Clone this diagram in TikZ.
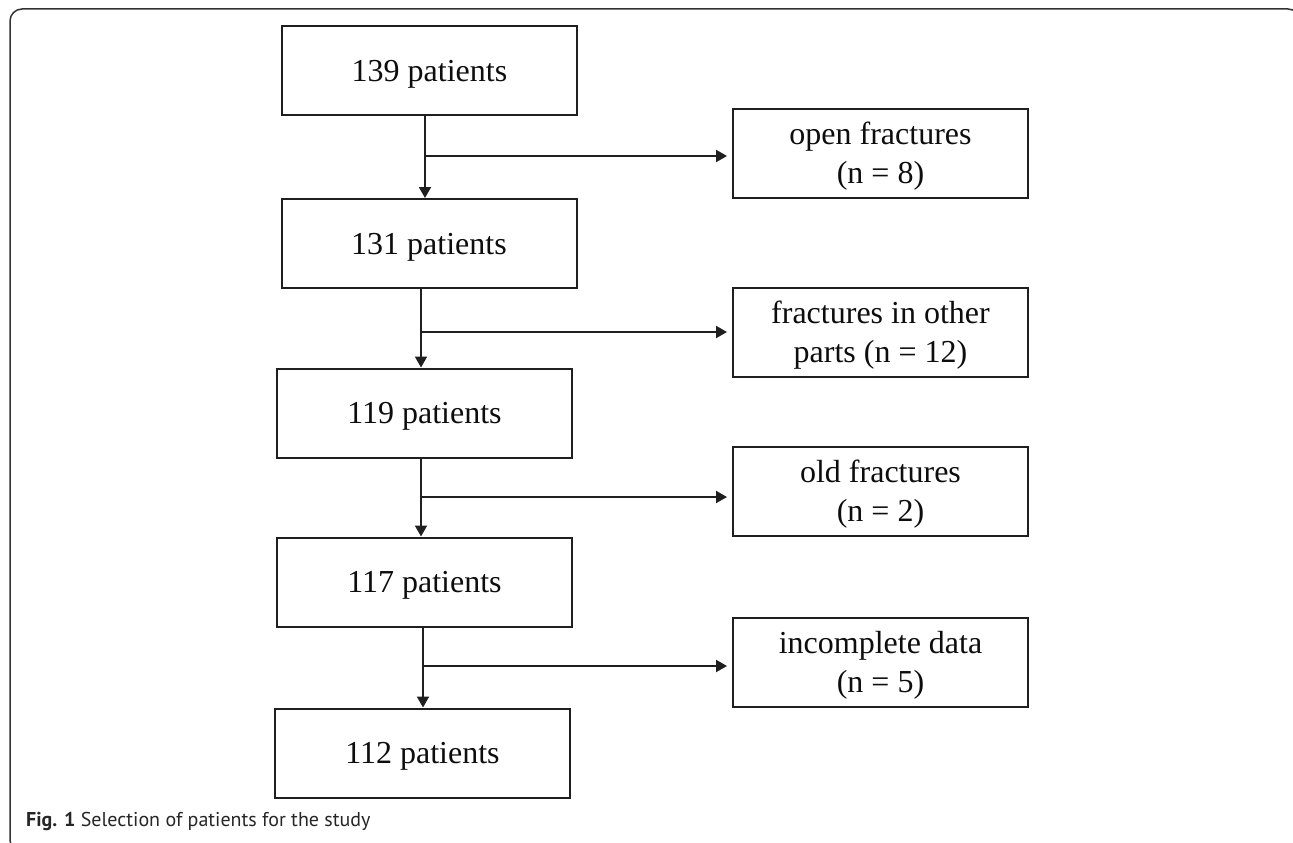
\documentclass[tikz,border=0pt]{standalone}
\usepackage{fontspec}
\setmainfont{Liberation Serif}
\newfontfamily\capfont{PT Sans}
\usetikzlibrary{arrows.meta}
\tikzset{
  box/.style={draw=black!88, line width=2pt, minimum width=295pt, minimum height=89pt, inner sep=0pt, align=center, text depth=0pt, font=\fontsize{32}{39}\selectfont, text=black!95},
  arr/.style={draw=black!88, line width=2pt, -{Triangle[length=11pt,width=12pt]}},
}
\begin{document}
\begin{tikzpicture}[x=1pt,y=-1pt]
\useasboundingbox (0,0) rectangle (1293,843);
\begin{scope}
\clip (0,0) rectangle (1293,843);
\draw[black!80, line width=1.5pt, rounded corners=12pt] (10,9) rectangle (1300,852);
\end{scope}
% left column
\node[box] (b1) at (429.5,70.5) {139 patients};
\node[box] (b2) at (429,243.5) {131 patients};
\node[box] (b3) at (424.5,413) {119 patients};
\node[box] (b4) at (424.5,582) {117 patients};
\node[box] (b5) at (422.5,753) {112 patients};
% right column
\node[box] (r1) at (880.5,153) {open fractures\\(n = 8)};
\node[box] (r2) at (880.5,332) {fractures in other\\parts (n = 12)};
\node[box] (r3) at (880.5,491) {old fractures\\(n = 2)};
\node[box] (r4) at (880.5,662) {incomplete data\\(n = 5)};
% junctions
\coordinate (j1) at (425,156);
\coordinate (j2) at (421,332);
\coordinate (j3) at (421,497);
\coordinate (j4) at (423,666);
% connectors
\draw[arr] (b1.south -| j1) -- (b2.north -| j1);
\draw[arr, shorten >=5pt] (j1) -- (r1.west |- j1);
\draw[arr] (b2.south -| j2) -- (b3.north -| j2);
\draw[arr, shorten >=5pt] (j2) -- (r2.west |- j2);
\draw[arr] (b3.south -| j3) -- (b4.north -| j3);
\draw[arr, shorten >=5pt] (j3) -- (r3.west |- j3);
\draw[arr] (b4.south -| j4) -- (b5.north -| j4);
\draw[arr, shorten >=5pt] (j4) -- (r4.west |- j4);
% caption
\node[anchor=west, inner sep=0pt, font=\capfont\fontsize{20}{24}\selectfont, text=black!85] (cap) at (26,821) {\textbf{Fig. 1} Selection of patients for the study};
\end{tikzpicture}
\end{document}
